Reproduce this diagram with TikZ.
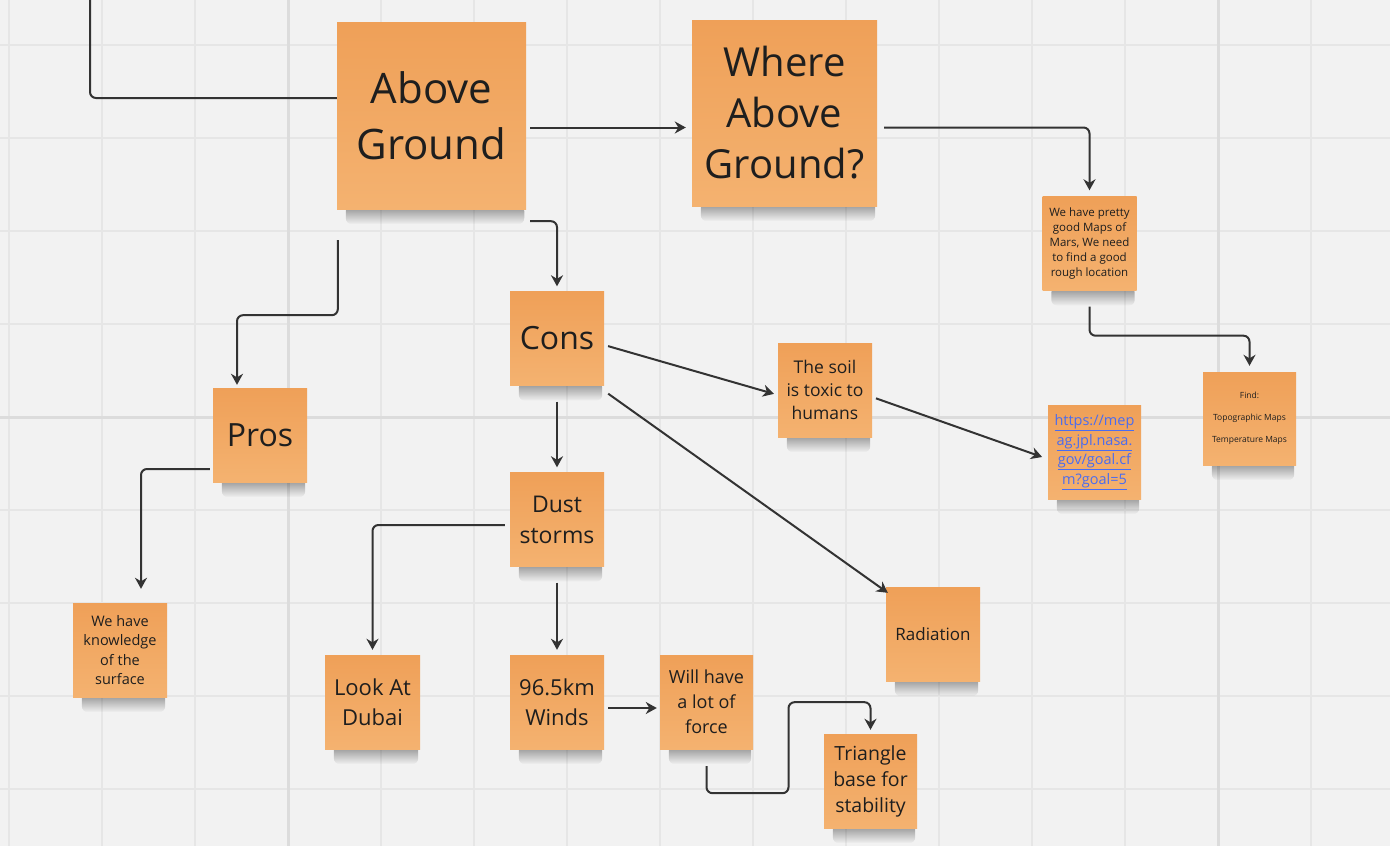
\documentclass[tikz,border=0pt]{standalone}
\usepackage{fontspec}
\setmainfont{Open Sans}
\usetikzlibrary{arrows.meta,backgrounds,fadings}
\definecolor{board}{HTML}{F2F2F2}
\definecolor{gridln}{HTML}{E6E6E6}
\definecolor{gridmj}{HTML}{DCDCDC}
\definecolor{noteTop}{HTML}{EFA058}
\definecolor{noteBot}{HTML}{F4B270}
\definecolor{ink}{HTML}{1E1E1E}
\definecolor{wire}{HTML}{333333}
\definecolor{linkblue}{HTML}{4A6CF0}
\newcommand{\fs}[2]{\fontsize{#1}{#2}\selectfont}

\begin{document}
\begin{tikzpicture}[x=1pt,y=-1pt,
  note/.style={rectangle, top color=noteTop, bottom color=noteBot, text=ink,
    align=center, inner sep=0pt, minimum width=94pt, minimum height=94pt},
  noteshadow/.style={fill=black, opacity=0.42, path fading=south, rounded corners=6pt},
  wire/.style={draw=wire, line width=2pt, rounded corners=6pt},
  conn/.style={wire, -{Stealth[length=11pt,width=12pt,inset=3.5pt]}}]
  \useasboundingbox (0,0) rectangle (1390,846);
  \begin{scope}[on background layer]
    \fill[board] (0,0) rectangle (1390,846);
    \foreach \gx in {9,102,...,1390} \draw[gridln, line width=2pt] (\gx,0) -- (\gx,846);
    \foreach \gy in {45,138,...,846} \draw[gridln, line width=2pt] (0,\gy) -- (1390,\gy);
    \draw[gridmj, line width=3pt] (288,0) -- (288,846) (1218,0) -- (1218,846) (0,417) -- (1390,417);
  \end{scope}

  \node[note, minimum width=189pt, minimum height=187pt, font=\fs{42}{56}] (ag) at (431.5,115.5) {Above\\Ground};
  \node[note, minimum width=185pt, minimum height=186pt, font=\fs{40}{51}] (wh) at (784.5,113) {Where\\Above\\Ground?};
  \node[note, font=\fs{11.5}{15}] (maps) at (1089.5,243.5) {We have pretty\\good Maps of\\Mars, We need\\to find a good\\rough location};
  \node[note, minimum width=93pt, minimum height=93pt, font=\fs{8.5}{11}] (find) at (1249.5,418.5) {Find:\\[11pt]Topographic Maps\\[11pt]Temperature Maps};
  \node[note, font=\fs{32}{40}] (cons) at (557,338.5) {Cons};
  \node[note, font=\fs{32}{40}] (pros) at (260,435) {Pros};
  \node[note, font=\fs{23}{31}] (dust) at (557,519.5) {Dust\\storms};
  \node[note, font=\fs{17.5}{23}] (soil) at (825,390) {The soil\\is toxic to\\humans};
  \node[note, minimum width=93pt, text=linkblue, font=\fs{14.5}{19.5}] (link) at (1094.5,452) {\underline{https://mep}\\\underline{ag.jpl.nasa.}\\\underline{gov/goal.cf}\\\underline{m?goal=5}};
  \node[note, font=\fs{14.5}{19.5}] (know) at (120,650) {We have\\knowledge\\of the\\surface};
  \node[note, minimum width=95pt, font=\fs{22}{30}] (dubai) at (372.5,702) {Look At\\Dubai};
  \node[note, font=\fs{22}{30}] (winds) at (557,702) {96.5km\\Winds};
  \node[note, minimum width=93pt, font=\fs{18}{25}] (force) at (706.5,702) {Will have\\a lot of\\force};
  \node[note, minimum width=93pt, font=\fs{19.5}{26}] (tri) at (870.5,781) {Triangle\\base for\\stability};
  \node[note, font=\fs{17}{22}] (rad) at (933,634) {Radiation};

  \begin{scope}[on background layer]
    \foreach \n in {ag,wh,maps,find,cons,pros,dust,soil,link,know,dubai,winds,force,tri,rad}
      \path[noteshadow] ([xshift=9pt,yshift=4pt]\n.south west) rectangle ([xshift=-2pt,yshift=-15pt]\n.south east);
  \end{scope}

  \coordinate (entry) at (90,-2);
  \draw[wire] (entry) |- ([yshift=17.5pt]ag.west);
  \draw[conn, shorten <=4pt, shorten >=6pt] ([yshift=-12pt]ag.east) -- ([yshift=-12pt]ag.east -| wh.west);
  \draw[conn, shorten <=7pt, shorten >=6pt] ([yshift=-12pt]ag.east -| wh.east) -| (maps.north);
  \draw[conn, shorten <=16pt, shorten >=6pt] (maps.south) -- ++(0,45) -| (find.north);
  \draw[conn, shorten >=5pt] ([xshift=4pt,yshift=-12pt]ag.south east) -| (cons.north);
  \draw[conn, shorten >=3pt] ([xshift=1pt,yshift=-31pt]ag.south west) -- ++(0,75) -| ([xshift=-23pt]pros.north);
  \draw[conn, shorten >=14pt] ([xshift=-3pt,yshift=-34pt]pros.west) -| ([xshift=21pt]know.north);
  \draw[conn, shorten <=4pt, shorten >=4pt] ([yshift=-6.5pt]cons.east) -- ([yshift=-5pt]soil.west);
  \draw[conn] ([xshift=4pt,yshift=-8pt]cons.south east) -- ([xshift=2pt,yshift=-6pt]rad.north west);
  \draw[conn, shorten <=16pt, shorten >=5pt] (cons.south) -- (dust.north);
  \draw[conn, shorten <=4pt, shorten >=6pt] ([yshift=-7pt]soil.east) -- ([yshift=-7pt]link.west);
  \draw[conn, shorten >=5pt] ([xshift=-5pt,yshift=-5.5pt]dust.west) -| (dubai.north);
  \draw[conn, shorten <=16pt, shorten >=5pt] (dust.south) -- (winds.north);
  \draw[conn, shorten <=4pt, shorten >=3pt] ([yshift=-6pt]winds.east) -- ([yshift=-6pt]force.west);
  \draw[conn, shorten >=4pt] ([yshift=-17pt]force.south) -- ++(0,27) -- ++(82,0) -- ++(0,-91) -| (tri.north);
\end{tikzpicture}
\end{document}
